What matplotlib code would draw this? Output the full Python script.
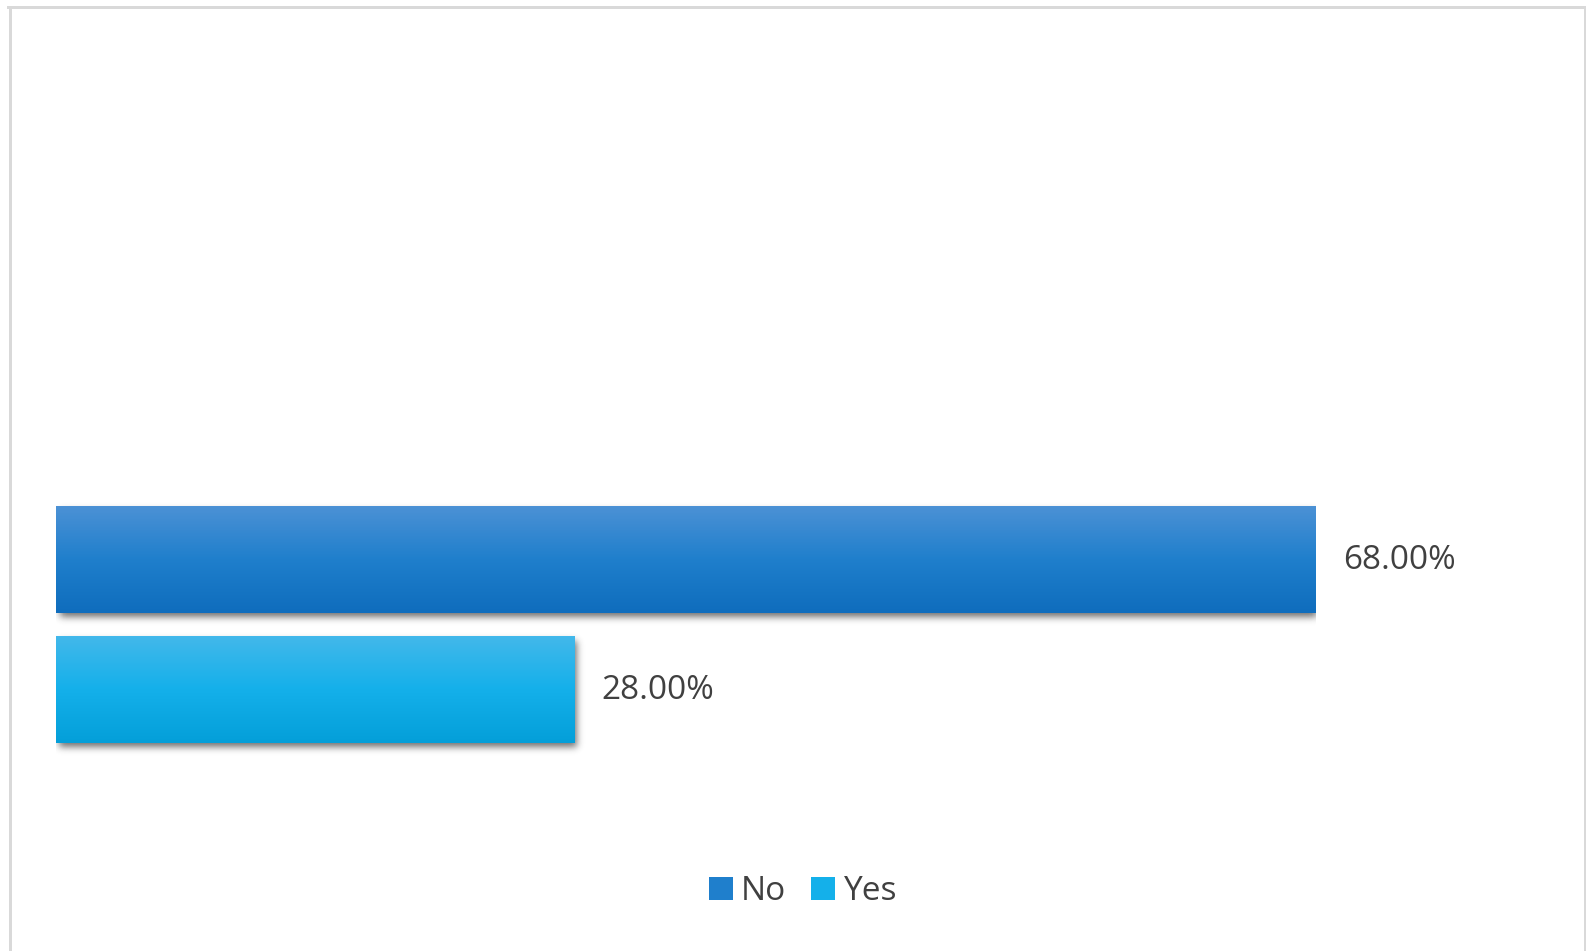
import math
import numpy as np
import matplotlib
matplotlib.use("Agg")
import matplotlib.pyplot as plt
from matplotlib.lines import Line2D

# ---- data ----
categories = ["No", "Yes"]
values = [68.00, 28.00]
value_labels = ["68.00%", "28.00%"]

# ---- style ----
top_colors = ["#4b91d5", "#42b8eb"]
mid_colors = ["#1f7fcc", "#14b0ea"]
bottom_colors = ["#0f6dbd", "#049fd9"]
text_color = "#404040"
FONT = ["Open Sans", "DejaVu Sans"]

W, H = 1586, 951
fig = plt.figure(figsize=(W / 100, H / 100), dpi=100)
fig.patch.set_facecolor("white")

ax_left_px, ax_right_px = 56, 1316
ax_top_px, ax_bot_px = 100, 800
ax = fig.add_axes([ax_left_px / W, 1 - ax_bot_px / H,
                   (ax_right_px - ax_left_px) / W, (ax_bot_px - ax_top_px) / H])
ax.set_axis_off()

ypos = [1, 0]
bar_h = 0.82
xlim = (0, max(values))
unit_px = 130.0
ylim = (-(ax_bot_px - 689.5) / unit_px, (689.5 - ax_top_px) / unit_px)

px_x = (xlim[1] - xlim[0]) / (ax_right_px - ax_left_px)  # data units per px
px_y = (ylim[1] - ylim[0]) / (ax_bot_px - ax_top_px)

verf = np.vectorize(math.erf)

def soft(t, a, b, s):
    return 0.5 * (verf((t - a) / (s * math.sqrt(2))) - verf((t - b) / (s * math.sqrt(2))))

for i, (cat, val) in enumerate(zip(categories, values)):
    bars = ax.barh(ypos[i], val, height=bar_h, color=mid_colors[i], label=cat,
                   zorder=3, linewidth=0)
    p = bars.patches[0]
    x0, y0 = p.get_x(), p.get_y()
    x1, y1 = x0 + p.get_width(), y0 + p.get_height()
    # gradient fill
    n = 64
    t = np.linspace(0, 1, n)[:, None]
    c_top = np.array(matplotlib.colors.to_rgb(top_colors[i]))
    c_mid = np.array(matplotlib.colors.to_rgb(mid_colors[i]))
    c_bot = np.array(matplotlib.colors.to_rgb(bottom_colors[i]))
    grad = np.where(t < 0.5, c_top + (c_mid - c_top) * (t / 0.5),
                    c_mid + (c_bot - c_mid) * ((t - 0.5) / 0.5))
    img = ax.imshow(grad[:, None, :], extent=(x0, x1, y0, y1), aspect="auto",
                    zorder=4, interpolation="bilinear")
    img.set_clip_path(p)
    # soft shadow (offset right/down)
    m = 20
    sx0, sx1 = x0 - m * px_x, x1 + m * px_x
    sy0, sy1 = y0 - m * px_y, y1 + m * px_y
    nx, ny = 400, 140
    xs = np.linspace(sx0, sx1, nx)
    ys = np.linspace(sy1, sy0, ny)
    dx, dy, s = 2.5, 4.5, 3.5
    fx = soft(xs, x0 + dx * px_x, x1 + dx * px_x, s * px_x)
    fy = soft(ys, y0 - dy * px_y, y1 - dy * px_y, s * px_y)
    alpha = 0.65 * np.outer(fy, fx)
    sh = np.zeros((ny, nx, 4))
    sh[..., :3] = 0.15
    sh[..., 3] = alpha
    ax.imshow(sh, extent=(sx0, sx1, sy0, sy1), aspect="auto", zorder=2,
              interpolation="bilinear")
    ax.annotate(value_labels[i], xy=(x1, ypos[i]), xytext=(19.4, -0.8),
                textcoords="offset points", ha="left", va="center",
                fontsize=24, color=text_color, family=FONT,
                annotation_clip=False)

ax.set_xlim(*xlim)
ax.set_ylim(*ylim)

leg = fig.legend(loc="center", bbox_to_anchor=(803 / W, 1 - 892 / H),
                 ncol=2, frameon=False, prop={"family": FONT, "size": 24},
                 handlelength=0.72, handleheight=0.68, handletextpad=0.25,
                 columnspacing=0.75, labelcolor=text_color)

# outer border
bc = "#d9d9d9"
lw = 3 * 72 / 100
fig.add_artist(Line2D([9.5 / W, 9.5 / W], [0, 1 - 7 / H], color=bc, lw=lw,
                      transform=fig.transFigure))
fig.add_artist(Line2D([8 / W, 1584.5 / W], [1 - 7 / H, 1 - 7 / H], color=bc, lw=lw,
                      transform=fig.transFigure))
fig.add_artist(Line2D([1584.5 / W, 1584.5 / W], [0, 1 - 7 / H], color=bc, lw=lw,
                      transform=fig.transFigure))

fig.savefig("out.png", dpi=100, facecolor="white")
